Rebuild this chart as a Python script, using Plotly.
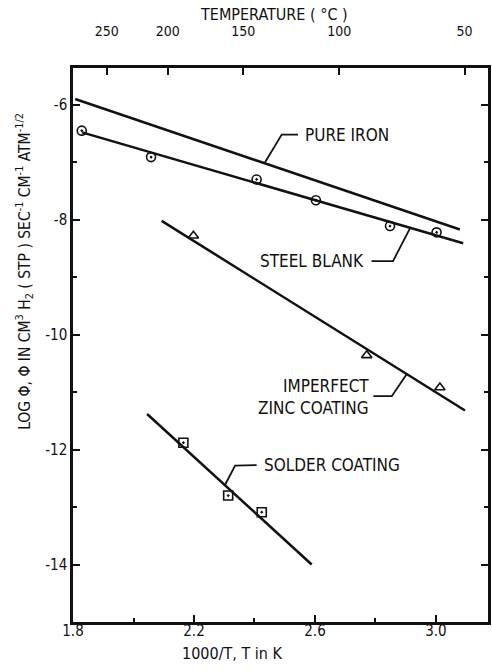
import plotly.graph_objects as go

# ---- data ----
steel_x = [1.829, 2.058, 2.407, 2.603, 2.848, 3.002]
steel_y = [-6.45, -6.91, -7.30, -7.66, -8.11, -8.22]
steel_fit_x = [1.83, 3.09]
steel_fit_y = [-6.48, -8.41]

iron_fit_x = [1.807, 3.079]
iron_fit_y = [-5.90, -8.17]

zinc_x = [2.198, 2.771, 3.013]
zinc_y = [-8.28, -10.36, -10.92]
zinc_fit_x = [2.093, 3.096]
zinc_fit_y = [-8.02, -11.32]

solder_x = [2.165, 2.313, 2.424]
solder_y = [-11.88, -12.80, -13.09]
solder_fit_x = [2.045, 2.589]
solder_fit_y = [-11.38, -14.0]

x_tick_vals = [1.8, 2.2, 2.6, 3.0]
x_tick_text = ["1.8", "2.2", "2.6", "3.0"]
x_minor_vals = [2.0, 2.4, 2.8]
y_tick_vals = [-6, -8, -10, -12, -14]
y_tick_text = ["-6", "-8", "-10", "-12", "-14"]
temp_c = [250, 200, 150, 100, 50]

temp_pos = [1000.0 / (t + 273.15) for t in temp_c]

FONT = "DejaVu Sans Condensed, Liberation Sans Narrow, Arial Narrow, DejaVu Sans, sans-serif"
BLACK = "#111111"
LW = 2.5

fig = go.Figure()

def line(x, y):
    fig.add_trace(go.Scatter(x=x, y=y, mode="lines", line=dict(color=BLACK, width=LW),
                             showlegend=False, hoverinfo="skip"))

def marks(x, y, symbol, size):
    fig.add_trace(go.Scatter(x=x, y=y, mode="markers",
                             marker=dict(symbol=symbol, size=size, color=BLACK,
                                         line=dict(color=BLACK, width=1.6)),
                             showlegend=False))

line(iron_fit_x, iron_fit_y)
line(steel_fit_x, steel_fit_y)
line(zinc_fit_x, zinc_fit_y)
line(solder_fit_x, solder_fit_y)
marks(steel_x, steel_y, "circle-open-dot", 9)
marks(zinc_x, zinc_y, "triangle-up-open", 9)
marks(solder_x, solder_y, "square-open-dot", 9)

# invisible trace on the top temperature axis
fig.add_trace(go.Scatter(x=temp_pos, y=[None] * len(temp_pos), xaxis="x2", mode="markers",
                         showlegend=False, hoverinfo="skip"))

# leader lines for the labels (data coordinates)
leaders = [
    ([2.544, 2.490, 2.435], [-6.52, -6.52, -7.00]),
    ([2.787, 2.858, 2.914], [-8.72, -8.72, -8.15]),
    ([2.793, 2.854, 2.903], [-11.07, -11.07, -10.69]),
    ([2.407, 2.336, 2.302], [-12.27, -12.28, -12.62]),
]
for lx, ly in leaders:
    fig.add_trace(go.Scatter(x=lx, y=ly, mode="lines", line=dict(color=BLACK, width=1.8),
                             showlegend=False, hoverinfo="skip"))

labels = [
    dict(x=2.560, y=-6.52, text="PURE IRON", xanchor="left", align="left"),
    dict(x=2.768, y=-8.72, text="STEEL BLANK", xanchor="right", align="right"),
    dict(x=2.785, y=-11.09, text="IMPERFECT<br>ZINC COATING", xanchor="right", align="right"),
    dict(x=2.425, y=-12.27, text="SOLDER COATING", xanchor="left", align="left"),
]
annotations = []
for lb in labels:
    annotations.append(dict(xref="x", yref="y", showarrow=False, yanchor="middle",
                            font=dict(family=FONT, size=17, color=BLACK), **lb))

annotations += [
    dict(xref="paper", yref="paper", x=0.484, y=1.0, yshift=54, text="TEMPERATURE ( \u00b0C )",
         showarrow=False, xanchor="center", yanchor="middle",
         font=dict(family=FONT, size=16, color=BLACK)),
    dict(xref="paper", yref="paper", x=0.382, y=0.0, yshift=-31, text="1000/T, T in K",
         showarrow=False, xanchor="center", yanchor="middle",
         font=dict(family=FONT, size=16, color=BLACK)),
    dict(xref="paper", yref="paper", x=0.0, xshift=-48, y=0.632, textangle=-90,
         text="LOG \u03a6, \u03a6 IN CM<sup>3</sup> H<sub>2</sub> ( STP ) SEC<sup>-1</sup> CM<sup>-1</sup> ATM<sup>-1/2</sup>",
         showarrow=False, xanchor="center", yanchor="middle",
         font=dict(family=FONT, size=15.5, color=BLACK)),
]

axis_common = dict(showgrid=False, zeroline=False, showline=True, linecolor=BLACK,
                   linewidth=LW, ticks="inside", tickcolor=BLACK, tickwidth=2,
                   automargin=False,
                   tickfont=dict(family=FONT, size=15, color=BLACK))

fig.update_layout(
    width=492, height=671,
    margin=dict(l=73, r=4, t=68, b=49),
    paper_bgcolor="white", plot_bgcolor="white",
    showlegend=False,
    xaxis=dict(range=[1.8, 3.172], tickvals=x_tick_vals, ticktext=x_tick_text, ticklen=7,
               ticklabelstandoff=-7,
               minor=dict(tickvals=x_minor_vals, ticks="inside", ticklen=4, tickwidth=1.5,
                          tickcolor=BLACK),
               **axis_common),
    xaxis2=dict(range=[1.8, 3.172], overlaying="x", side="top", anchor="y",
                tickvals=temp_pos, ticktext=[str(t) for t in temp_c], ticklen=7,
                ticklabelstandoff=24,
                **{**axis_common, "tickfont": dict(family=FONT, size=14, color=BLACK)}),
    yaxis=dict(range=[-15.0, -5.36], tickvals=y_tick_vals, ticktext=y_tick_text, ticklen=7,
               mirror="ticks",
               minor=dict(dtick=1, tick0=-15, ticks="inside", ticklen=4, tickwidth=1.5,
                          tickcolor=BLACK),
               **axis_common),
    annotations=annotations,
)

# remove the default page margin so the figure fills the window exactly
fig.write_html("out.html",
               config={"displayModeBar": False},
               post_script="document.body.style.margin='0';document.body.style.overflow='hidden';")
